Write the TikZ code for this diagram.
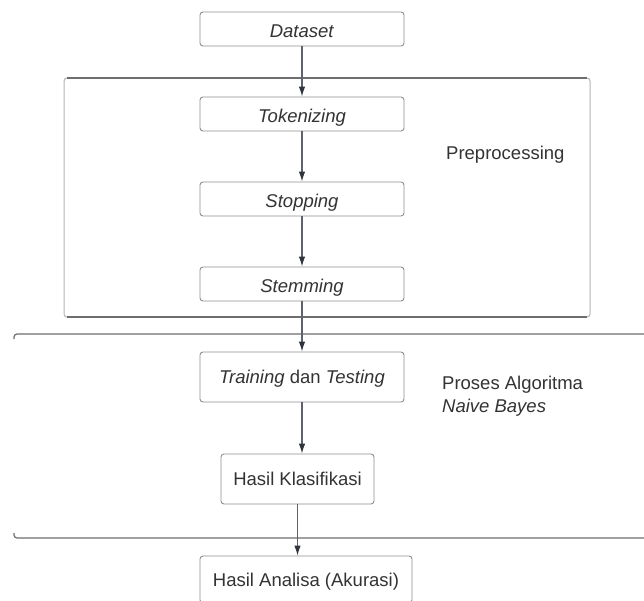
\documentclass[tikz,border=0pt]{standalone}
\usepackage{fontspec}
\setmainfont{Liberation Sans}
\usetikzlibrary{arrows.meta}
\definecolor{boxline}{HTML}{8E8E8E}
\definecolor{arrowc}{HTML}{2F343D}
\definecolor{shaft}{HTML}{5E636B}
\definecolor{txt}{HTML}{333333}
\definecolor{frame}{HTML}{6E6E6E}
\definecolor{sideline}{HTML}{B4B4B4}
\tikzset{
  stepbox/.style={draw=boxline, line width=0.9pt, rounded corners=3pt, fill=white,
    text=txt, font=\fontsize{18.5}{22}\selectfont, inner sep=0pt,
    text height=13.2pt, text depth=0pt},
  lowtext/.style={text height=16pt},
  conn/.style={draw=shaft, line width=1.2pt, -{Latex[length=10pt,width=6.5pt,color=arrowc]}},
  lbl/.style={text=txt, font=\fontsize{18.5}{23}\selectfont, anchor=west, align=left, inner sep=0pt}
}
\begin{document}
\begin{tikzpicture}[x=1pt,y=-1pt]
\useasboundingbox (0,0) rectangle (644,600);
\clip (0,0) rectangle (644,600);
\fill[white] (0,0) rectangle (644,600);
% Preprocessing frame
\draw[sideline, line width=1pt, rounded corners=3pt] (64,78) rectangle (590,317);
\draw[frame, line width=1.2pt] (67,78) -- (587,78);
\draw[frame, line width=1.2pt] (67,317) -- (587,317);
% Proses algoritma frame (open on the right)
\draw[frame, line width=1.2pt, rounded corners=3pt] (648,334) -- (14,334) -- (14,339);
\draw[frame, line width=1.2pt, rounded corners=3pt] (14,533) -- (14,538) -- (648,538);
% nodes
\node[stepbox, lowtext, minimum width=204pt, minimum height=34pt] (ds) at (302,29) {\textit{Dataset}};
\node[stepbox, lowtext, minimum width=204pt, minimum height=34pt] (tok) at (302,114) {\textit{Tokenizing}};
\node[stepbox, lowtext, minimum width=204pt, minimum height=34pt] (stop) at (302,199) {\textit{Stopping}};
\node[stepbox, lowtext, minimum width=204pt, minimum height=34pt] (stem) at (302,284) {\textit{Stemming}};
\node[stepbox, minimum width=204pt, minimum height=50pt] (tr) at (302,377) {\textit{Training} dan \textit{Testing}};
\node[stepbox, minimum width=153pt, minimum height=50pt] (kl) at (297.5,479) {Hasil Klasifikasi};
\node[stepbox, minimum width=212pt, minimum height=47pt] (an) at (306,579.5) {Hasil Analisa (Akurasi)};
% labels
\node[lbl] (pre) at (446,155) {Preprocessing};
\node[lbl] (nb) at (442,396) {Proses Algoritma\\\textit{Naive Bayes}};
% connectors
\draw[conn] (ds.south) -- (tok.north);
\draw[conn] (tok.south) -- (stop.north);
\draw[conn] (stop.south) -- (stem.north);
\draw[conn] (stem.south) -- (tr.north);
\draw[conn] (tr.south) -- (tr.south |- kl.north);
\draw[conn] (kl.south) -- (kl.south |- an.north);
\end{tikzpicture}
\end{document}
